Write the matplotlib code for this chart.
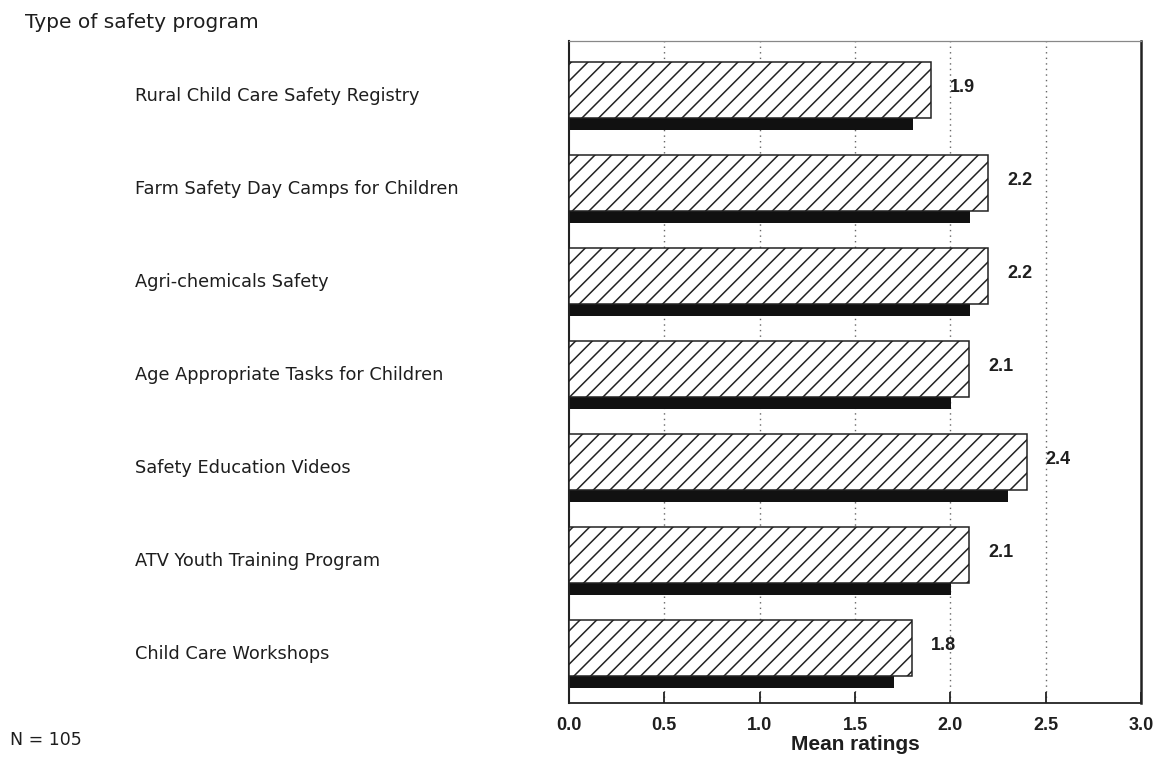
import matplotlib
matplotlib.use('Agg')
import matplotlib.pyplot as plt

# Mean ratings per safety program, top to bottom
programs = ['Rural Child Care Safety Registry',
            'Farm Safety Day Camps for Children',
            'Agri-chemicals Safety',
            'Age Appropriate Tasks for Children',
            'Safety Education Videos',
            'ATV Youth Training Program',
            'Child Care Workshops']
ratings = [1.9, 2.2, 2.2, 2.1, 2.4, 2.1, 1.8]
xticks = [0.0, 0.5, 1.0, 1.5, 2.0, 2.5, 3.0]
n_resp = 105

plt.rcParams['font.family'] = ['Liberation Sans', 'DejaVu Sans']
plt.rcParams['hatch.linewidth'] = 1.1
txt = '#1e1e1e'

fig = plt.figure(figsize=(11.54, 7.59), dpi=100)
ax = fig.add_axes([0.4931, 0.0738, 0.4956, 0.8722])

ypos = list(range(len(programs)))
bar_h = 0.60
shadow_h = 0.13
shadow_shift = 0.095   # drop shadow sits a bit to the left

# drop shadow under each bar
ax.barh([y + bar_h / 2 + shadow_h / 2 for y in ypos],
        [r - shadow_shift for r in ratings], height=shadow_h,
        color='#111111', edgecolor='none', zorder=2)
# hatched bars
ax.barh(ypos, ratings, height=bar_h, color='white', edgecolor='#222222',
        hatch='//', linewidth=1.1, zorder=3)

for y, r in zip(ypos, ratings):
    ax.text(r + 0.1, y - 0.03, '%.1f' % r, ha='left', va='center',
            fontsize=13, fontweight='bold', color=txt)

ax.set_xlim(0, 3.0)
ax.set_ylim(6.59, -0.527)
ax.set_yticks([])
ax.set_xticks(xticks)
ax.set_xticklabels(['%.1f' % t for t in xticks], fontsize=13,
                   fontweight='bold', color=txt)
ax.tick_params(axis='x', direction='in', length=8, width=1.3, pad=10,
               color='#222222')
for t in xticks[1:-1]:
    ax.axvline(t, color='#666666', linestyle=(0, (1, 3)), linewidth=1.0,
               zorder=1)

ax.spines['left'].set_linewidth(1.5)
ax.spines['right'].set_linewidth(1.8)
ax.spines['bottom'].set_linewidth(1.3)
ax.spines['top'].set_linewidth(0.9)
ax.spines['top'].set_color('#888888')
for s in ['left', 'right', 'bottom']:
    ax.spines[s].set_color('#222222')

ax.set_xlabel('Mean ratings', fontsize=15, fontweight='bold', color=txt,
              labelpad=1)

# category names on the left of the figure
for y, name in zip(ypos, programs):
    fy = ax.transData.transform((0, y + 0.06))[1]
    fig.text(135 / 1154, fy / fig.bbox.height, name, ha='left',
             va='center', fontsize=12.8, color=txt, family='DejaVu Sans')

fig.text(25 / 1154, 1 - 22 / 759, 'Type of safety program', ha='left',
         va='center', fontsize=14.5, color=txt, family='DejaVu Sans')
fig.text(10 / 1154, 1 - 740 / 759, 'N = %d' % n_resp, ha='left',
         va='center', fontsize=12.5, color=txt, family='DejaVu Sans')

fig.savefig('out.png', dpi=100)
